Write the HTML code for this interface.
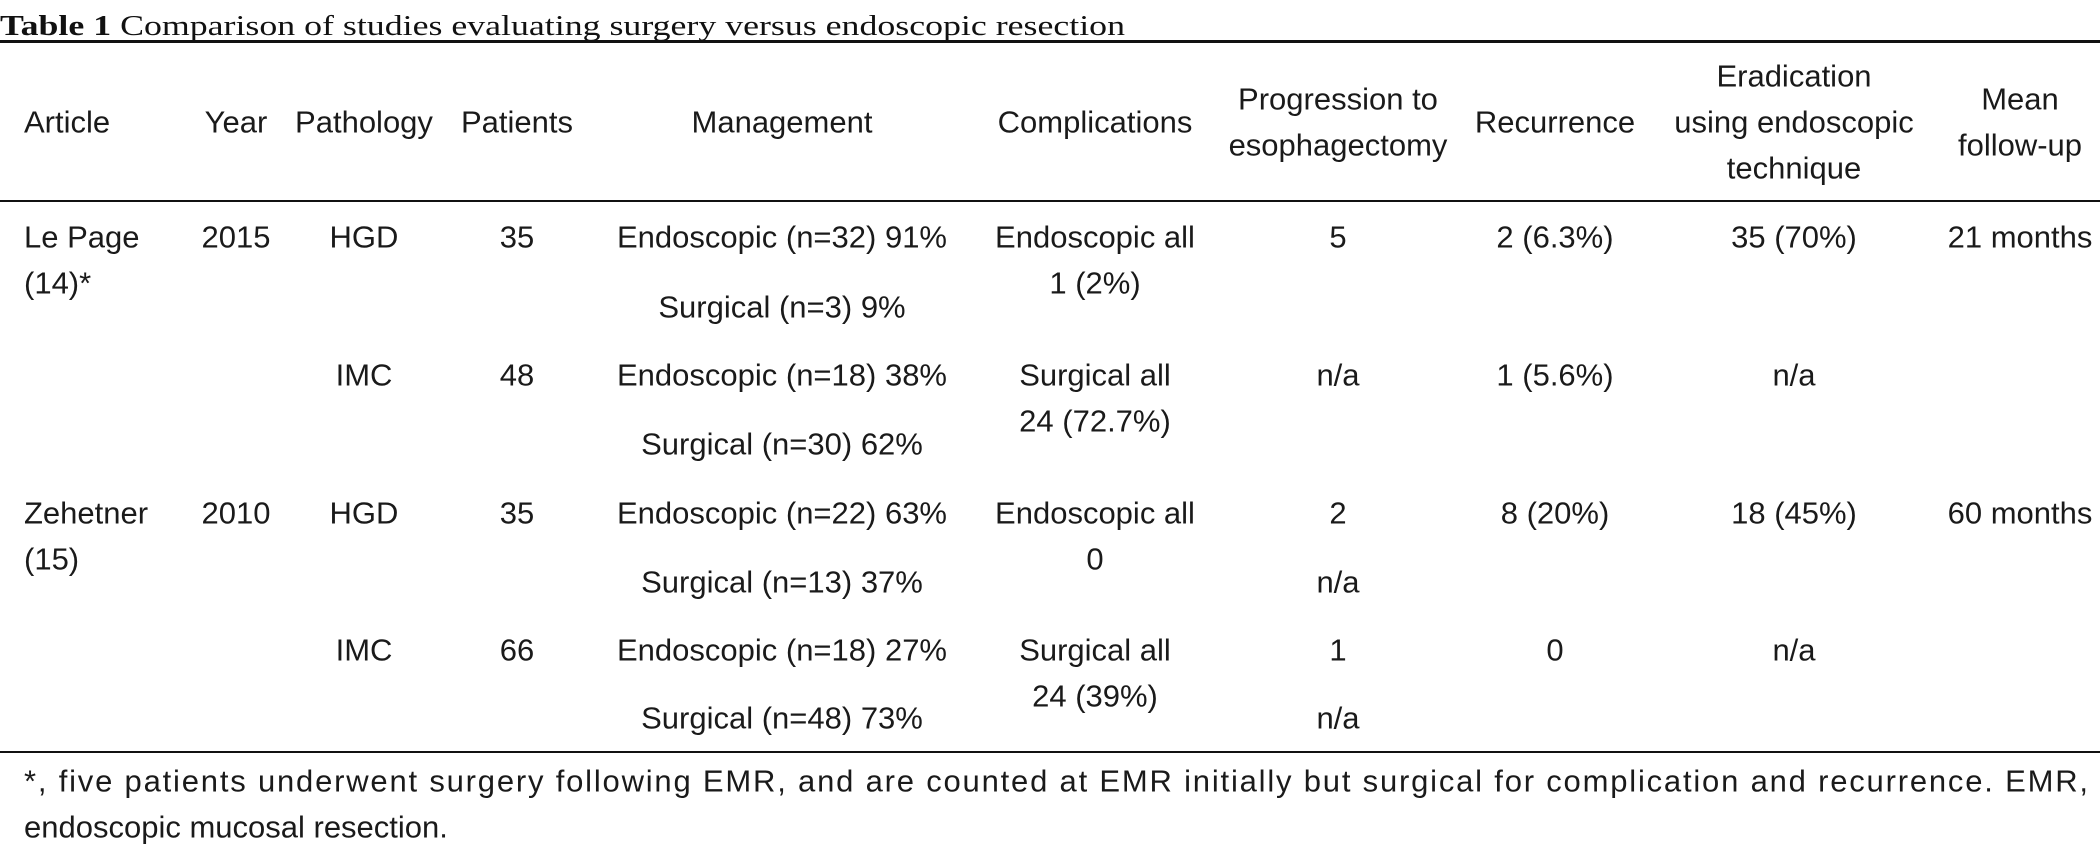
<!DOCTYPE html>
<html><head><meta charset="utf-8"><style>
html,body{margin:0;padding:0;background:#fff;}
svg{display:block;}
.t{font-family:"Liberation Sans",sans-serif;font-size:31px;fill:#1a1a1a;dominant-baseline:central;}
.m{text-anchor:middle;}
</style></head><body>
<svg width="2100" height="847" viewBox="0 0 2100 847">
<text x="0" y="26" style="font-family:'Liberation Serif',serif;font-size:29px;fill:#111;dominant-baseline:central" textLength="1125" lengthAdjust="spacingAndGlyphs"><tspan font-weight="bold">Table 1</tspan> Comparison of studies evaluating surgery versus endoscopic resection</text>
<rect x="0" y="40" width="2100" height="3" fill="#111"/>
<rect x="0" y="200" width="2100" height="2" fill="#111"/>
<rect x="0" y="751" width="2100" height="2" fill="#111"/>
<g>
<text class="t" x="24" y="122">Article</text>
<text class="t m" x="236" y="122">Year</text>
<text class="t m" x="364" y="122">Pathology</text>
<text class="t m" x="517" y="122">Patients</text>
<text class="t m" x="782" y="122">Management</text>
<text class="t m" x="1095" y="122">Complications</text>
<text class="t m" x="1338" y="99">Progression to</text>
<text class="t m" x="1338" y="145">esophagectomy</text>
<text class="t m" x="1555" y="122">Recurrence</text>
<text class="t m" x="1794" y="76">Eradication</text>
<text class="t m" x="1794" y="122">using endoscopic</text>
<text class="t m" x="1794" y="168">technique</text>
<text class="t m" x="2020" y="99">Mean</text>
<text class="t m" x="2020" y="145">follow-up</text>
</g>
<g>
<text class="t" x="24" y="237">Le Page</text>
<text class="t" x="24" y="283">(14)*</text>
<text class="t m" x="236" y="237">2015</text>
<text class="t m" x="364" y="237">HGD</text>
<text class="t m" x="517" y="237">35</text>
<text class="t m" x="782" y="237">Endoscopic (n=32) 91%</text>
<text class="t m" x="782" y="307">Surgical (n=3) 9%</text>
<text class="t m" x="1095" y="237">Endoscopic all</text>
<text class="t m" x="1095" y="283">1 (2%)</text>
<text class="t m" x="1338" y="237">5</text>
<text class="t m" x="1555" y="237">2 (6.3%)</text>
<text class="t m" x="1794" y="237">35 (70%)</text>
<text class="t m" x="2020" y="237">21 months</text>
<text class="t m" x="364" y="375">IMC</text>
<text class="t m" x="517" y="375">48</text>
<text class="t m" x="782" y="375">Endoscopic (n=18) 38%</text>
<text class="t m" x="782" y="444">Surgical (n=30) 62%</text>
<text class="t m" x="1095" y="375">Surgical all</text>
<text class="t m" x="1095" y="421">24 (72.7%)</text>
<text class="t m" x="1338" y="375">n/a</text>
<text class="t m" x="1555" y="375">1 (5.6%)</text>
<text class="t m" x="1794" y="375">n/a</text>
</g>
<g>
<text class="t" x="24" y="513">Zehetner</text>
<text class="t" x="24" y="559">(15)</text>
<text class="t m" x="236" y="513">2010</text>
<text class="t m" x="364" y="513">HGD</text>
<text class="t m" x="517" y="513">35</text>
<text class="t m" x="782" y="513">Endoscopic (n=22) 63%</text>
<text class="t m" x="782" y="582">Surgical (n=13) 37%</text>
<text class="t m" x="1095" y="513">Endoscopic all</text>
<text class="t m" x="1095" y="559">0</text>
<text class="t m" x="1338" y="513">2</text>
<text class="t m" x="1338" y="582">n/a</text>
<text class="t m" x="1555" y="513">8 (20%)</text>
<text class="t m" x="1794" y="513">18 (45%)</text>
<text class="t m" x="2020" y="513">60 months</text>
<text class="t m" x="364" y="650">IMC</text>
<text class="t m" x="517" y="650">66</text>
<text class="t m" x="782" y="650">Endoscopic (n=18) 27%</text>
<text class="t m" x="782" y="718">Surgical (n=48) 73%</text>
<text class="t m" x="1095" y="650">Surgical all</text>
<text class="t m" x="1095" y="696">24 (39%)</text>
<text class="t m" x="1338" y="650">1</text>
<text class="t m" x="1338" y="718">n/a</text>
<text class="t m" x="1555" y="650">0</text>
<text class="t m" x="1794" y="650">n/a</text>
</g>
<text class="t" x="24" y="781" textLength="2064" lengthAdjust="spacing">*, five patients underwent surgery following EMR, and are counted at EMR initially but surgical for complication and recurrence. EMR,</text>
<text class="t" x="24" y="827">endoscopic mucosal resection.</text>
</svg>
</body></html>
